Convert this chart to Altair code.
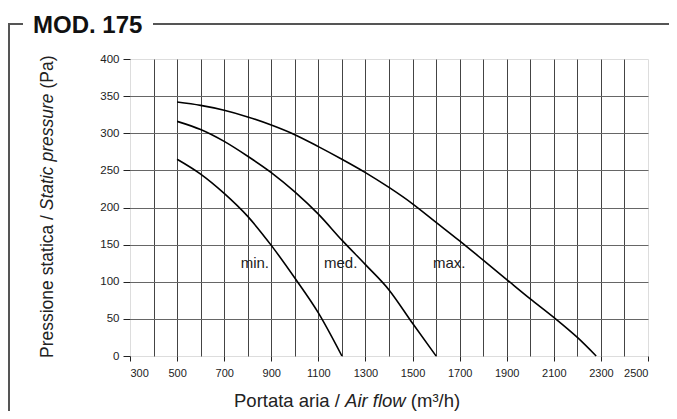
import altair as alt
import pandas as pd

# ---- data ----
max_flow = [500, 600, 700, 800, 900, 1000, 1100, 1200, 1300, 1400, 1500, 1600, 1700, 1800, 1900, 2000, 2100, 2200, 2280]
max_pres = [342, 337.5, 331, 322, 311, 298, 282, 265, 247, 227, 205, 180, 155, 129, 103, 77, 52, 25, 0]
med_flow = [500, 600, 700, 800, 900, 1000, 1100, 1200, 1300, 1400, 1500, 1600]
med_pres = [316, 305, 289, 269, 247, 221, 191, 156, 123, 89, 44, 0]
min_flow = [500, 600, 700, 800, 900, 1000, 1100, 1200]
min_pres = [265, 245, 219, 188, 149, 105, 58, 0]

label_text = ["min.", "med.", "max."]
label_flow = [770, 1124, 1587]
label_pres = [125, 125, 125]

x_ticks = list(range(300, 2501, 100))
y_ticks = list(range(0, 401, 50))

title_text = "MOD. 175"
xt_parts = ["Portata aria /", "Air flow", "(m³/h)"]
yt_parts = ["Pressione statica /", "Static pressure", "(Pa)"]

rows = []
for name, fx, py in (("max", max_flow, max_pres), ("med", med_flow, med_pres), ("min", min_flow, min_pres)):
    for a, b in zip(fx, py):
        rows.append({"series": name, "flow": a, "pressure": b})
curves = pd.DataFrame(rows)
labels = pd.DataFrame({"label": label_text, "flow": label_flow, "pressure": label_pres})
one = pd.DataFrame({"k": [0]})

# Arial / Liberation Sans advance widths (per 1000 em)
AW = {" ": 278, "/": 278, "(": 333, ")": 333, "A": 667, "P": 667, "S": 667, "a": 556, "c": 500,
      "e": 556, "f": 278, "h": 556, "i": 222, "l": 222, "m": 833, "n": 556, "o": 556, "p": 556,
      "r": 333, "s": 500, "t": 278, "u": 556, "w": 722, "³": 333}


def tw(s, size):
    return sum(AW.get(c, 556) for c in s) * size / 1000.0


W, H = 518, 297
FONT = "Liberation Sans, Arial, Helvetica, sans-serif"

x_enc = alt.X("flow:Q", scale=alt.Scale(domain=[300, 2500], nice=False, zero=False),
              axis=alt.Axis(values=x_ticks, title=None, domain=False, format="d",
                            labelExpr="datum.value % 200 == 100 ? datum.label : ''",
                            tickOpacity={"condition": {"test": "datum.value % 200 != 100", "value": 0}, "value": 1},
                            gridOpacity={"condition": {"test": "datum.value == 300 || datum.value == 2500", "value": 0}, "value": 1},
                            gridColor="#444", gridWidth=1, tickColor="#222", tickSize=5,
                            labelFontSize=11, labelPadding=6, labelColor="#222", labelFont=FONT))
y_enc = alt.Y("pressure:Q", scale=alt.Scale(domain=[0, 400], nice=False),
              axis=alt.Axis(values=y_ticks, title=None, domain=False, format="d",
                            gridOpacity={"condition": {"test": "datum.value == 0 || datum.value == 400", "value": 0}, "value": 1},
                            gridColor="#666", gridWidth=1, tickColor="#222", tickSize=7,
                            labelFontSize=11.5, labelPadding=4, labelColor="#222", labelFont=FONT))

lines = alt.Chart(curves).mark_line(color="black", strokeWidth=1.6, interpolate="monotone").encode(
    x=x_enc, y=y_enc, detail="series:N")
texts = alt.Chart(labels).mark_text(align="left", baseline="middle", fontSize=15, font=FONT, color="#222").encode(
    x=x_enc, y=y_enc, text="label:N")

deco = []
FR = "#555"
deco.append(alt.Chart(one).mark_rule(color=FR, strokeWidth=2).encode(
    x=alt.value(-121), y=alt.value(-35), y2=alt.value(352)))
deco.append(alt.Chart(one).mark_rule(color=FR, strokeWidth=2).encode(
    x=alt.value(-122), x2=alt.value(-107), y=alt.value(-35)))
deco.append(alt.Chart(one).mark_rule(color=FR, strokeWidth=2).encode(
    x=alt.value(23), x2=alt.value(W + 21), y=alt.value(-35)))
deco.append(alt.Chart(one).mark_text(align="left", baseline="alphabetic", fontSize=24, fontWeight="bold",
                                     font=FONT, color="#111").encode(
    x=alt.value(-97), y=alt.value(-26), text=alt.value(title_text)))

# x axis title with italic middle part
XS = 18.5
x0, xb = 104, 348
xpos = [x0, x0 + tw(xt_parts[0] + " ", XS), x0 + tw(xt_parts[0] + " " + xt_parts[1] + " ", XS)]
for part, px, st in zip(xt_parts, xpos, ["normal", "italic", "normal"]):
    deco.append(alt.Chart(one).mark_text(align="left", baseline="alphabetic", fontSize=XS, font=FONT,
                                         fontStyle=st, color="#222").encode(
        x=alt.value(px), y=alt.value(xb), text=alt.value(part)))

# y axis title, rotated, with italic middle part
YS = 17.5
y0, yx = 299, -77
ypos = [y0, y0 - tw(yt_parts[0] + " ", YS), y0 - tw(yt_parts[0] + " " + yt_parts[1] + " ", YS)]
for part, py, st in zip(yt_parts, ypos, ["normal", "italic", "normal"]):
    deco.append(alt.Chart(one).mark_text(align="left", baseline="alphabetic", fontSize=YS, font=FONT,
                                         fontStyle=st, angle=270, color="#222").encode(
        x=alt.value(yx), y=alt.value(py), text=alt.value(part)))

chart = alt.layer(lines, texts, *deco).properties(
    width=W, height=H,
    autosize=alt.AutoSizeParams(type="none"),
    padding={"left": 122, "top": 51, "right": 21, "bottom": 55},
).configure_view(stroke="black", strokeWidth=2).configure(background="white")

chart.save("out.html", embed_options={"renderer": "svg", "actions": False})
